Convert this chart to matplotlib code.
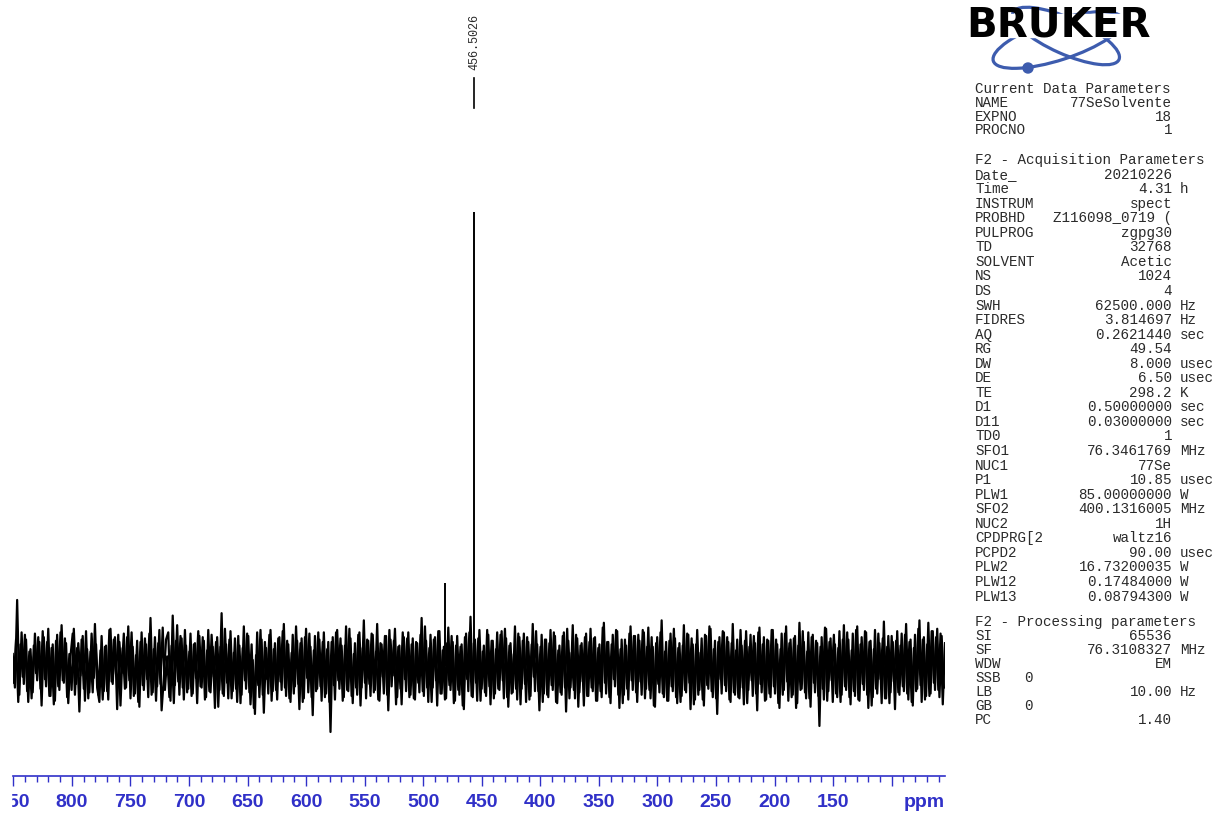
import numpy as np
import matplotlib
matplotlib.use('Agg')
import matplotlib.pyplot as plt
from matplotlib.patches import Ellipse, Circle, Rectangle
from matplotlib.ticker import MultipleLocator

W, H = 1218, 813
blue = '#3030c8'
logo_blue = '#3d5cae'
txt_col = '#2a2a2a'

# spectrum data (intensity in arbitrary units, baseline = 0)
ppm_left, ppm_right = 850.5, 54.5
# even samples
noise_a = [
    10, -18, 55, -24, 28, -15, 22, -30, 14, -22, 27, -12, 20, -33, 24, -17, 31, -25, 18, -29,
    26, -20, 34, -14, 19, -31, 8, 27, -24, 15, -38, 22, -19, 29, -27, 12, -22, 35, -18, -30,
    25, -21, 17, -28, 31, -15, 24, -36, 20, -6, 27, -18, 33, -27, 16, -23, 21, -34, 28, -20,
    18, -26, 40, -22, 24, -17, 30, -37, -10, 22, 28, -29, 42, -16, 34, -24, 23, -28, 17, -19,
    27, -23, 19, -31, 25, -18, 21, -26, 30, -22, 16, -35, 24, -20, 44, -25, 18, -27, 29, -21,
    23, -30, 17, -24, 33, -19, 25, -32, 5, -40, 28, -26, 22, -39, 15, -23, 30, -21, 19, -28,
    24, -20, 35, -25, 18, -30, 26, -17, 21, -36, 23, -27, 31, -22, 16, -41, 25, -19, 22, -29,
    28, -23, 20, -55, 24, -28, 30, -19, 17, -26, 33, -21, 23, -31, 19, -24, 28, -18, 38, -27,
    21, -25, 26, -20, 35, -29, 18, -23, 25, -37, 22, -8, 31, -26, 17, -32, 24, -21, 28, -24,
    23, -28, 19, -22, 40, -25, 21, -30, 26, -18, 24, -33, 29, -23, 16, -27, 32, -20, 20, -29,
    25, -24, 18, -36, 27, -21, 41, -26, 22, -29, 30, -19, 17, -25, 26, -32, 21, -23, 28, -20,
    29, -27, 23, -34, 19, -22, 33, -28, 24, -19, 27, -30, 20, -25, 35, -21, 18, -37, 26, -23,
    22, -26, 30, -20, 25, -31, 17, -24, 28, -38, 21, -18, 34, -27, 23, -22, 19, -33, 27, -25,
    31, -21, 24, -29, 18, -26, 36, -23, 20, -31, 26, -17, 29, -35, 22, -24, 17, -28, 33, -20,
    25, -30, 21, -24, 28, -19, 32, -27, 16, -34, 24, -22, 38, -26, 20, -29, 27, -21, 23, -31,
    19, -25, 34, -22, 26, -36, 18, -28, 30, -20, 23, -33, 25, -19, 31, -26, 21, -40, 24, -23,
    28, -21, 20, -30, 35, -24, 22, -27, 17, -32, 29, -20, 26, -25, 19, -37, 32, -22, 24, -28,
    21, -26, 30, -23, 18, -35, 27, -20, 33, -29, 22, -24, 25, -31, 36, -19, 20, -27, 28, -34,
    26, -22, 19, -50, 24, -28, 31, -21, 23, -30, 18, -26, 29, -24, 34, -20, 22, -32, 27, -25,
    33, -29, 24, -20, 28, -35, 21, -26, 30, -23, 19, -31, 37, -27, 25, -22, 20, -36, 29, -24,
    27, -21, 35, -28, 22, -33, 26, -19, 38, -30, 24, -25, 36, -23, 29, -20, 31, -26, 25, -18,
]
# odd samples (between the even ones)
noise_b = [
    -14, 22, -30, 18, -9, 26, -21, 12, -27, 17, -6, 24, -19, 29, -11, 20, -25, 15, -32, 21,
    -17, 28, -12, 23, -26, 10, -20, 31, -15, 19, -8, 25, -29, 14, -22, 27, -10, 18, -24, 13,
    -28, 16, -21, 30, -13, 22, -7, 26, -33, 15, -19, 24, -12, 28, -25, 9, -30, 20, -16, 23,
    -11, 27, -24, 14, -29, 19, -15, 32, -20, 8, -26, 17, -31, 21, -13, 25, -18, 30, -22, 12,
    -25, 18, -10, 29, -17, 24, -28, 13, -21, 26, -9, 20, -34, 16, -23, 31, -14, 22, -27, 11,
    -19, 25, -31, 15, -12, 27, -22, 18, -35, 9, -16, 30, -24, 20, -11, 26, -29, 14, -20, 23,
    -13, 29, -18, 21, -27, 11, -23, 33, -15, 19, -30, 24, -10, 27, -26, 13, -21, 28, -17, 20,
    -26, 14, -30, 20, -16, 28, -12, 23, -29, 17, -20, 31, -25, 10, -18, 26, -33, 15, -14, 22,
    -15, 27, -22, 12, -28, 19, -9, 25, -24, 30, -17, 21, -32, 16, -19, 28, -11, 23, -26, 18,
    -27, 20, -14, 26, -21, 33, -18, 15, -30, 22, -12, 29, -23, 13, -28, 19, -16, 25, -31, 17,
    -20, 16, -33, 24, -11, 28, -25, 19, -14, 23, -29, 12, -22, 30, -17, 21, -27, 14, -19, 26,
    -12, 31, -26, 17, -23, 10, -19, 27, -32, 21, -15, 24, -28, 18, -9, 29, -21, 16, -30, 22,
    -24, 19, -16, 28, -30, 13, -22, 25, -18, 31, -27, 11, -20, 26, -34, 17, -13, 24, -25, 20,
    -18, 23, -29, 15, -21, 32, -14, 20, -26, 18, -11, 30, -24, 14, -31, 22, -19, 27, -12, 25,
    -22, 26, -13, 30, -27, 16, -20, 24, -33, 19, -15, 28, -23, 12, -29, 21, -17, 31, -26, 15,
    -30, 17, -20, 27, -14, 23, -32, 18, -24, 11, -28, 26, -16, 33, -21, 14, -27, 20, -11, 29,
    -16, 24, -28, 19, -22, 13, -26, 30, -18, 21, -31, 16, -12, 25, -23, 28, -15, 18, -29, 22,
    -23, 30, -17, 22, -31, 14, -24, 27, -13, 19, -26, 23, -35, 17, -20, 29, -22, 12, -27, 24,
    -14, 21, -25, 16, -19, 32, -29, 20, -12, 26, -23, 15, -30, 22, -17, 28, -26, 13, -21, 30,
    -28, 18, -15, 29, -24, 20, -33, 14, -19, 27, -11, 23, -27, 16, -31, 25, -13, 21, -22, 17,
    -17, 26, -23, 20, -30, 15, -21, 31, -16, 22, -28, 18, -25, 29, -14, 24, -20, 27, -32, 19,
]
peak_ppm = [481.4, 456.5026]
peak_int = [69, 378]
peak_label = '456.5026'

major_ticks = [850, 800, 750, 700, 650, 600, 550, 500, 450, 400, 350, 300, 250, 200, 150, 100]
tick_labels = ['850', '800', '750', '700', '650', '600', '550', '500', '450', '400',
               '350', '300', '250', '200', '150', '']

# parameter listing
head_title = 'Current Data Parameters'
head_rows = [('NAME', '77SeSolvente', ''), ('EXPNO', '18', ''), ('PROCNO', '1', '')]
acq_title = 'F2 - Acquisition Parameters'
acq_rows = [
    ('Date_', '20210226', ''), ('Time', '4.31', 'h'), ('INSTRUM', 'spect', ''),
    ('PROBHD', 'Z116098_0719 (', ''), ('PULPROG', 'zgpg30', ''), ('TD', '32768', ''),
    ('SOLVENT', 'Acetic', ''), ('NS', '1024', ''), ('DS', '4', ''),
    ('SWH', '62500.000', 'Hz'), ('FIDRES', '3.814697', 'Hz'), ('AQ', '0.2621440', 'sec'),
    ('RG', '49.54', ''), ('DW', '8.000', 'usec'), ('DE', '6.50', 'usec'),
    ('TE', '298.2', 'K'), ('D1', '0.50000000', 'sec'), ('D11', '0.03000000', 'sec'),
    ('TD0', '1', ''), ('SFO1', '76.3461769', 'MHz'), ('NUC1', '77Se', ''),
    ('P1', '10.85', 'usec'), ('PLW1', '85.00000000', 'W'), ('SFO2', '400.1316005', 'MHz'),
    ('NUC2', '1H', ''), ('CPDPRG[2', 'waltz16', ''), ('PCPD2', '90.00', 'usec'),
    ('PLW2', '16.73200035', 'W'), ('PLW12', '0.17484000', 'W'), ('PLW13', '0.08794300', 'W'),
]
proc_title = 'F2 - Processing parameters'
proc_rows = [
    ('SI', '65536', ''), ('SF', '76.3108327', 'MHz'), ('WDW', 'EM', ''),
    ('SSB', '', ''), ('LB', '10.00', 'Hz'), ('GB', '', ''), ('PC', '1.40', ''),
]
mid_vals = {'SSB': '0', 'GB': '0'}

fig = plt.figure(figsize=(W / 100, H / 100), dpi=100)

# spectrum axes
ax = fig.add_axes([12.7 / W, 1 - 776 / H, (945 - 12.7) / W, 776 / H])
grid = np.linspace(ppm_left, ppm_right, len(noise_a) + len(noise_b))
ax.plot(grid[0::2], noise_a, color='black', lw=1.6)
ax.plot(grid[1::2], noise_b, color='black', lw=1.6)
ax.vlines(peak_ppm, 0, peak_int, color='black', lw=1.4)
ax.plot([peak_ppm[1], peak_ppm[1]], [peak_int[1] + 87, peak_int[1] + 112], color='black', lw=1.2)
ax.text(peak_ppm[1], peak_int[1] + 142, peak_label, rotation=90, ha='center', va='center',
        fontsize=8.5, family='Liberation Mono', color=txt_col)
ax.set_xlim(ppm_left, ppm_right)
ax.set_ylim(-91.7, 555)
for s in ['top', 'left', 'right']:
    ax.spines[s].set_visible(False)
ax.spines['bottom'].set_color(blue)
ax.spines['bottom'].set_linewidth(1.2)
ax.set_yticks([])
ax.set_xticks(major_ticks)
ax.set_xticklabels(tick_labels, color=blue, fontweight='bold', fontsize=14, family='Liberation Sans')
ax.xaxis.set_minor_locator(MultipleLocator(10))
ax.tick_params(axis='x', which='major', direction='out', length=7, width=1, color=blue, pad=6)
ax.tick_params(axis='x', which='minor', direction='out', length=4, width=1, color=blue)
fig.text(924 / W, 1 - 802 / H, 'ppm', color=blue, fontweight='bold', fontsize=14,
         family='Liberation Sans', ha='center', va='center')

# overlay in pixel coordinates for logo, text block and edge mask
ov = fig.add_axes([0, 0, 1, 1], zorder=5)
ov.set_xlim(0, W)
ov.set_ylim(H, 0)
ov.axis('off')
ov.patch.set_alpha(0)
ov.add_patch(Rectangle((0, 785), 11, 28, color='white', zorder=10))

ov.add_patch(Ellipse((1058, 40), 136, 40, angle=-18, fill=False, ec=logo_blue, lw=2.3, zorder=1))
ov.add_patch(Ellipse((1066, 36), 116, 36, angle=24, fill=False, ec=logo_blue, lw=2.3, zorder=1))
ov.add_patch(Circle((1028, 68), 5, color=logo_blue, zorder=2))
ov.add_patch(Rectangle((960, 14), 200, 23, color='white', zorder=3))
ov.text(1059, 25.5, 'BRUKER', fontsize=29, fontweight='heavy', family='DejaVu Sans',
        ha='center', va='center', color='black', zorder=4)

name_x, val_x, unit_x, mid_x = 975, 1172, 1180, 1024
fs = 10.3


def put_rows(title, rows, y0, step):
    ov.text(name_x, y0, title, fontsize=fs, family='Liberation Mono', color=txt_col, va='center')
    for i, (n, v, u) in enumerate(rows):
        y = y0 + (i + 1) * step
        ov.text(name_x, y, n, fontsize=fs, family='Liberation Mono', color=txt_col, va='center')
        ov.text(val_x, y, v, fontsize=fs, family='Liberation Mono', color=txt_col, va='center', ha='right')
        if u:
            ov.text(unit_x, y, u, fontsize=fs, family='Liberation Mono', color=txt_col, va='center')
        if n in mid_vals:
            ov.text(mid_x, y, mid_vals[n], fontsize=fs, family='Liberation Mono', color=txt_col, va='center')


put_rows(head_title, head_rows, 89, 13.8)
put_rows(acq_title, acq_rows, 160, 14.55)
put_rows(proc_title, proc_rows, 622, 14.0)

fig.savefig('out.png', dpi=100)
